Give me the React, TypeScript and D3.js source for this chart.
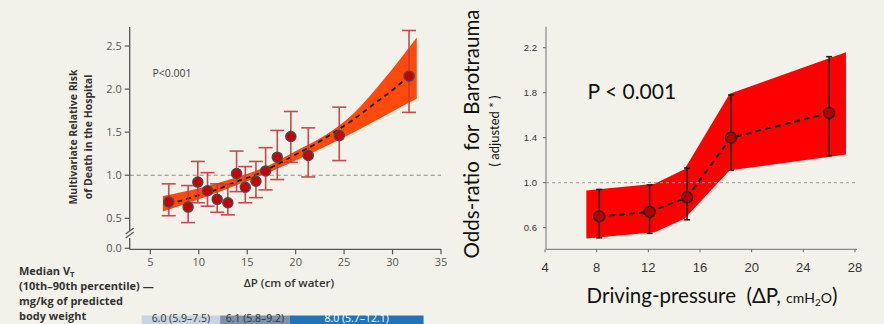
import { useEffect, useRef } from 'react';
import * as d3 from 'd3';

// ---- left panel: relative risk of death vs driving pressure ----
const riskX = [6.9, 8.9, 9.9, 10.9, 11.9, 13.0, 13.9, 14.8, 15.9, 16.9, 18.1, 19.5, 21.3, 24.5, 31.7];
const riskY = [0.69, 0.63, 0.92, 0.82, 0.72, 0.68, 1.02, 0.86, 0.93, 1.05, 1.21, 1.45, 1.23, 1.46, 2.15];
const riskLo = [0.53, 0.45, 0.68, 0.64, 0.57, 0.54, 0.81, 0.68, 0.74, 0.83, 0.95, 1.15, 0.98, 1.17, 1.73];
const riskHi = [0.90, 0.88, 1.16, 1.03, 0.90, 0.89, 1.28, 1.10, 1.16, 1.32, 1.52, 1.74, 1.55, 1.79, 2.68];

const fitX = [6.9, 8, 10, 12, 14, 16, 18, 20, 22, 24, 26, 28, 30, 31.7];
const fitY = [0.67, 0.70, 0.77, 0.84, 0.93, 1.01, 1.12, 1.24, 1.36, 1.50, 1.65, 1.82, 1.99, 2.15];

const bandLX = [6.3, 10, 14, 17, 20, 23, 26, 29, 32.5];
const bandLLo = [0.58, 0.72, 0.89, 1.02, 1.17, 1.33, 1.50, 1.68, 1.89];
const bandLHi = [0.76, 0.85, 0.98, 1.10, 1.28, 1.46, 1.72, 2.10, 2.60];

const leftXTicks = [5, 10, 15, 20, 25, 30, 35];
const leftYTicks = [0.5, 1.0, 1.5, 2.0, 2.5];

const vtLabels = ['6.0 (5.9–7.5)', '6.1 (5.8–9.2)', '8.0 (5.7–12.1)'];
const vtStart = [4.1, 12.2, 19.4];
const vtEnd = [12.2, 19.4, 33.2];
const vtColors = ['#c9d4e2', '#7c93ad', '#2274b8'];

// ---- right panel: odds-ratio for barotrauma ----
const orX = [8.2, 12.1, 15.0, 18.4, 26.0];
const orY = [0.70, 0.74, 0.87, 1.40, 1.62];
const orLo = [0.51, 0.55, 0.67, 1.11, 1.24];
const orHi = [0.94, 0.98, 1.13, 1.78, 2.12];

const bandRX = [7.2, 12.5, 14.8, 18.3, 27.3];
const bandRLo = [0.505, 0.56, 0.68, 1.11, 1.25];
const bandRHi = [0.93, 0.99, 1.12, 1.79, 2.16];

const rightXTicks = [4, 8, 12, 16, 20, 24, 28];
const rightYTicks = [0.6, 1.0, 1.4, 1.8, 2.2];

export default function App() {
  const svgRef = useRef<SVGSVGElement>(null);

  useEffect(() => {
    document.body.style.margin = '0';
    const svg = d3.select(svgRef.current);
    svg.selectAll('*').remove();

    svg.append('rect').attr('width', 884).attr('height', 324).attr('fill', '#f3f2ea');

    // ================= LEFT PANEL =================
    const lf = 'Open Sans, sans-serif';
    const xL = d3.scaleLinear().domain([0, 35]).range([101.9, 441]);
    const yL = d3.scaleLinear().domain([0.5, 2.5]).range([218.3, 46]);
    const axisLeftX = 129.7;
    const axisBottomY = 249.3;
    const left = svg.append('g');

    // confidence band
    const bandL = bandLX.map((x, i) => ({ x, lo: bandLLo[i], hi: bandLHi[i] }));
    left.append('path')
      .datum(bandL)
      .attr('fill', '#ff4a0c')
      .attr('d', d3.area<any>().x(d => xL(d.x)).y0(d => yL(d.lo)).y1(d => yL(d.hi)).curve(d3.curveMonotoneX));

    // reference line at 1.0
    left.append('line')
      .attr('x1', axisLeftX).attr('x2', 441)
      .attr('y1', yL(1)).attr('y2', yL(1))
      .attr('stroke', '#888').attr('stroke-width', 1).attr('stroke-dasharray', '4,3');

    // fitted dashed curve
    left.append('path')
      .datum(fitX.map((x, i) => [x, fitY[i]] as [number, number]))
      .attr('fill', 'none').attr('stroke', '#1a1a1a').attr('stroke-width', 1.8)
      .attr('stroke-dasharray', '5,4')
      .attr('d', d3.line().x(d => xL(d[0])).y(d => yL(d[1])).curve(d3.curveMonotoneX));

    // error bars
    const ptsL = riskX.map((x, i) => ({ x, y: riskY[i], lo: riskLo[i], hi: riskHi[i] }));
    const eb = left.selectAll('.ebl').data(ptsL).join('g').attr('class', 'ebl')
      .attr('stroke', '#c23a40').attr('stroke-width', 1.6).attr('opacity', 0.9);
    eb.append('line').attr('x1', d => xL(d.x)).attr('x2', d => xL(d.x))
      .attr('y1', d => yL(d.lo)).attr('y2', d => yL(d.hi));
    eb.append('line').attr('x1', d => xL(d.x) - 7).attr('x2', d => xL(d.x) + 7)
      .attr('y1', d => yL(d.lo)).attr('y2', d => yL(d.lo));
    eb.append('line').attr('x1', d => xL(d.x) - 7).attr('x2', d => xL(d.x) + 7)
      .attr('y1', d => yL(d.hi)).attr('y2', d => yL(d.hi));

    left.selectAll('.ptl').data(ptsL).join('circle').attr('class', 'ptl')
      .attr('cx', d => xL(d.x)).attr('cy', d => yL(d.y)).attr('r', 5)
      .attr('fill', '#c8000a').attr('stroke', '#4a4a4a').attr('stroke-width', 1.5);

    // axes
    left.append('line').attr('x1', axisLeftX).attr('x2', axisLeftX).attr('y1', 27).attr('y2', 231)
      .attr('stroke', '#555').attr('stroke-width', 1.3);
    left.append('line').attr('x1', axisLeftX).attr('x2', axisLeftX).attr('y1', 238).attr('y2', axisBottomY)
      .attr('stroke', '#555').attr('stroke-width', 1.3);
    left.append('line').attr('x1', axisLeftX).attr('x2', 441).attr('y1', axisBottomY).attr('y2', axisBottomY)
      .attr('stroke', '#555').attr('stroke-width', 1.3);
    // axis break
    [0, 4].forEach(o => {
      left.append('line')
        .attr('x1', axisLeftX - 4).attr('y1', 234 + o)
        .attr('x2', axisLeftX + 4).attr('y2', 228 + o)
        .attr('stroke', '#555').attr('stroke-width', 1.2);
    });

    const ytL = left.selectAll('.ytl').data(leftYTicks).join('g').attr('class', 'ytl')
      .attr('transform', d => `translate(${axisLeftX},${yL(d)})`);
    ytL.append('line').attr('x1', -5).attr('x2', 0).attr('stroke', '#555').attr('stroke-width', 1.2);
    ytL.append('text').attr('x', -8).attr('dy', '0.35em').attr('text-anchor', 'end')
      .attr('font-family', lf).attr('font-size', 11).attr('fill', '#555').text(d => d.toFixed(1));
    left.append('line').attr('x1', axisLeftX - 5).attr('x2', axisLeftX)
      .attr('y1', 248.3).attr('y2', 248.3).attr('stroke', '#555').attr('stroke-width', 1.2);
    left.append('text').attr('x', axisLeftX - 8).attr('y', 248.3).attr('dy', '0.35em')
      .attr('text-anchor', 'end').attr('font-family', lf).attr('font-size', 11).attr('fill', '#555').text('0.0');

    const xtL = left.selectAll('.xtl').data(leftXTicks).join('g').attr('class', 'xtl')
      .attr('transform', d => `translate(${xL(d)},${axisBottomY})`);
    xtL.append('line').attr('y1', 0).attr('y2', 5).attr('stroke', '#555').attr('stroke-width', 1.2);
    xtL.append('text').attr('y', 13).attr('dy', '0.35em').attr('text-anchor', 'middle')
      .attr('font-family', lf).attr('font-size', 11).attr('fill', '#555').text(d => d);

    left.append('text').attr('x', xL(19.3)).attr('y', 286.5).attr('text-anchor', 'middle')
      .attr('font-family', lf).attr('font-size', 11.5).attr('font-weight', 600).attr('fill', '#333')
      .text('ΔP (cm of water)');

    left.append('text').attr('x', 152.5).attr('y', 77).attr('font-family', lf)
      .attr('font-size', 10.5).attr('fill', '#444').text('P<0.001');

    const yLab = left.append('text').attr('transform', 'translate(77,137) rotate(-90)')
      .attr('text-anchor', 'middle').attr('font-family', lf).attr('font-size', 10.5)
      .attr('font-weight', 700).attr('fill', '#333');
    yLab.append('tspan').attr('x', 0).attr('y', 0).text('Multivariate Relative Risk');
    yLab.append('tspan').attr('x', 0).attr('y', 14.5).text('of Death in the Hospital');

    // tidal volume strip
    const vt = left.append('text').attr('font-family', lf).attr('font-size', 11)
      .attr('font-weight', 700).attr('fill', '#333');
    vt.append('tspan').attr('x', 19).attr('y', 274.5).text('Median V');
    vt.append('tspan').attr('dy', 2).attr('font-size', 7.5).text('T');
    vt.append('tspan').attr('x', 19).attr('y', 289.5).text('(10th–90th percentile) —');
    vt.append('tspan').attr('x', 19).attr('y', 304.5).text('mg/kg of predicted');
    vt.append('tspan').attr('x', 19).attr('y', 319.5).text('body weight');

    vtLabels.forEach((lab, i) => {
      left.append('rect').attr('x', xL(vtStart[i])).attr('y', 315.5)
        .attr('width', xL(vtEnd[i]) - xL(vtStart[i])).attr('height', 10).attr('fill', vtColors[i]);
      left.append('text').attr('x', (xL(vtStart[i]) + xL(vtEnd[i])) / 2).attr('y', 321.5)
        .attr('text-anchor', 'middle').attr('font-family', lf).attr('font-size', 10.5)
        .attr('fill', i === 2 ? '#fff' : '#333').text(lab);
    });

    // ================= RIGHT PANEL =================
    const rf = 'Lato, Open Sans, sans-serif';
    const xR = d3.scaleLinear().domain([4, 28]).range([545, 855]);
    const yR = d3.scaleLinear().domain([0.6, 2.2]).range([227.7, 47.7]);
    const rAxisX = 546;
    const rAxisY = 249.3;
    const right = svg.append('g');

    const bandR = bandRX.map((x, i) => ({ x, lo: bandRLo[i], hi: bandRHi[i] }));
    right.append('path').datum(bandR).attr('fill', '#ff0000')
      .attr('d', d3.area<any>().x(d => xR(d.x)).y0(d => yR(d.lo)).y1(d => yR(d.hi)));

    right.append('line').attr('x1', rAxisX).attr('x2', 855).attr('y1', yR(1)).attr('y2', yR(1))
      .attr('stroke', '#999').attr('stroke-width', 1).attr('stroke-dasharray', '3,3');

    const ptsR = orX.map((x, i) => ({ x, y: orY[i], lo: orLo[i], hi: orHi[i] }));
    right.append('path').datum(ptsR).attr('fill', 'none').attr('stroke', '#111')
      .attr('stroke-width', 2).attr('stroke-dasharray', '6,4')
      .attr('d', d3.line<any>().x(d => xR(d.x)).y(d => yR(d.y)));

    const ebr = right.selectAll('.ebr').data(ptsR).join('g').attr('class', 'ebr')
      .attr('stroke', '#222').attr('stroke-width', 1.6);
    ebr.append('line').attr('x1', d => xR(d.x)).attr('x2', d => xR(d.x))
      .attr('y1', d => yR(d.lo)).attr('y2', d => yR(d.hi));
    ebr.append('line').attr('x1', d => xR(d.x) - 3).attr('x2', d => xR(d.x) + 3)
      .attr('y1', d => yR(d.lo)).attr('y2', d => yR(d.lo));
    ebr.append('line').attr('x1', d => xR(d.x) - 3).attr('x2', d => xR(d.x) + 3)
      .attr('y1', d => yR(d.hi)).attr('y2', d => yR(d.hi));

    right.selectAll('.ptr').data(ptsR).join('circle').attr('class', 'ptr')
      .attr('cx', d => xR(d.x)).attr('cy', d => yR(d.y)).attr('r', 5.5)
      .attr('fill', '#b20000').attr('stroke', '#222').attr('stroke-width', 1.5);

    right.append('line').attr('x1', rAxisX).attr('x2', rAxisX).attr('y1', 26.7).attr('y2', rAxisY)
      .attr('stroke', '#888').attr('stroke-width', 1.2);
    right.append('line').attr('x1', rAxisX).attr('x2', 857).attr('y1', rAxisY).attr('y2', rAxisY)
      .attr('stroke', '#888').attr('stroke-width', 1.2);

    const ytR = right.selectAll('.ytr').data(rightYTicks).join('g').attr('class', 'ytr')
      .attr('transform', d => `translate(${rAxisX},${yR(d)})`);
    ytR.append('line').attr('x1', -3).attr('x2', 0).attr('stroke', '#666');
    ytR.append('text').attr('x', -9).attr('dy', '0.35em').attr('text-anchor', 'end')
      .attr('font-family', 'Liberation Sans, Arial, sans-serif').attr('font-size', 9.5)
      .attr('fill', '#333').text(d => d.toFixed(1));

    const xtR = right.selectAll('.xtr').data(rightXTicks).join('g').attr('class', 'xtr')
      .attr('transform', d => `translate(${xR(d)},${rAxisY})`);
    xtR.append('line').attr('y1', 0).attr('y2', 3).attr('stroke', '#666');
    xtR.append('text').attr('y', 18).attr('dy', '0.35em').attr('text-anchor', 'middle')
      .attr('font-family', 'Liberation Sans, Arial, sans-serif').attr('font-size', 13)
      .attr('fill', '#333').text(d => d);

    right.append('text').attr('x', 587.5).attr('y', 98.5).attr('font-family', rf)
      .attr('font-size', 21).attr('fill', '#111').text('P < 0.001');

    right.append('text').attr('transform', 'translate(479,134) rotate(-90)')
      .attr('text-anchor', 'middle').attr('font-family', rf).attr('font-size', 20.5)
      .attr('fill', '#111').style('white-space', 'pre').text('Odds-ratio  for  Barotrauma');
    right.append('text').attr('transform', 'translate(499,131) rotate(-90)')
      .attr('text-anchor', 'middle').attr('font-family', rf).attr('font-size', 13)
      .attr('fill', '#111').style('white-space', 'pre').text('( adjusted * )');

    const xLab = right.append('text').attr('x', 712).attr('y', 303).attr('text-anchor', 'middle')
      .attr('font-family', rf).attr('font-size', 20.5).attr('fill', '#111').style('white-space', 'pre');
    xLab.append('tspan').text('Driving-pressure  (ΔP, ');
    xLab.append('tspan').attr('font-size', 14).text('cmH');
    xLab.append('tspan').attr('font-size', 10).attr('dy', 3).text('2');
    xLab.append('tspan').attr('font-size', 14).attr('dy', -3).text('O');
    xLab.append('tspan').text(')');
  }, []);

  return (
    <div style={{ position: 'absolute', left: 0, top: 0 }}>
      <svg ref={svgRef} width={884} height={324} style={{ display: 'block' }}></svg>
    </div>
  );
}
